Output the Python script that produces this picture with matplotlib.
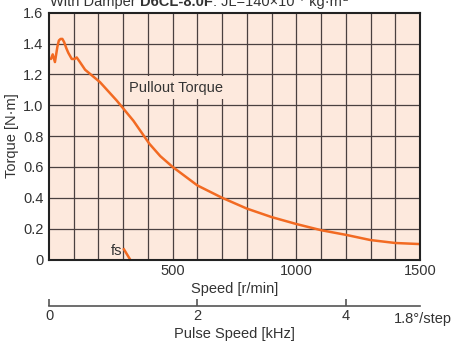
import matplotlib
matplotlib.use("Agg")
import matplotlib.pyplot as plt

# Pullout torque curve, speed in r/min vs torque in N·m
speed = [8, 15, 24, 34, 40, 47, 54, 61, 70, 78, 92, 103, 112, 125, 146, 206, 274,
         341, 406, 450, 500, 600, 700, 800, 900, 1000, 1100, 1200, 1300, 1400, 1500]
torque = [1.30, 1.33, 1.28, 1.38, 1.42, 1.43, 1.43, 1.41, 1.37, 1.34, 1.30, 1.30, 1.31,
          1.28, 1.23, 1.15, 1.03, 0.90, 0.75, 0.67, 0.60, 0.48, 0.40, 0.33, 0.275,
          0.23, 0.19, 0.16, 0.126, 0.107, 0.10]

# short start-stop (fs) segment
fs_speed = [303, 328]
fs_torque = [0.066, 0.0]

x_ticks = [500, 1000, 1500]
y_ticks = [0, 0.2, 0.4, 0.6, 0.8, 1.0, 1.2, 1.4, 1.6]
y_labels = ["0", "0.2", "0.4", "0.6", "0.8", "1.0", "1.2", "1.4", "1.6"]
khz_ticks = [0, 2, 4]

FONT = ["Liberation Sans", "DejaVu Sans"]
TXT = "#333333"
ORANGE = "#f26a22"
FS = 10.5
plt.rcParams["font.family"] = FONT

W, H = 453, 346
fig = plt.figure(figsize=(W / 100, H / 100), dpi=100, facecolor="white")
left, right, top, bottom = 49, 420, 12.7, 259.5
ax = fig.add_axes([left / W, 1 - bottom / H, (right - left) / W, (bottom - top) / H])
ax.set_facecolor("#fde9dd")

ax.set_xlim(0, 1500)
ax.set_ylim(0, 1.6)

# grid every 100 r/min and every 0.2 N·m
for v in range(100, 1500, 100):
    ax.axvline(v, color="#4a4040", linewidth=0.9, zorder=1)
for v in y_ticks[1:-1]:
    ax.axhline(v, color="#4a4040", linewidth=0.9, zorder=1)

ax.plot(speed, torque, color=ORANGE, linewidth=1.8, zorder=3, solid_capstyle="round")
ax.plot(fs_speed, fs_torque, color=ORANGE, linewidth=1.8, zorder=3, clip_on=False)

ax.text(296, 0.055, "fs", ha="right", va="center", fontsize=FS, color=TXT, zorder=4)
ax.text(515, 1.115, "Pullout Torque", ha="center", va="center", fontsize=FS, color=TXT,
        zorder=4, bbox=dict(boxstyle="square,pad=0.3", facecolor="#fde9dd", edgecolor="none"))

for s in ax.spines.values():
    s.set_color("#222222")
    s.set_linewidth(1.5)
    s.set_zorder(5)

ax.set_xticks(x_ticks)
ax.set_xticklabels([str(t) for t in x_ticks])
ax.set_yticks(y_ticks)
ax.set_yticklabels(y_labels)
ax.tick_params(length=0, labelsize=FS, labelcolor=TXT)
ax.tick_params(axis="x", pad=3)
ax.tick_params(axis="y", pad=4)
ax.set_xlabel("Speed [r/min]", fontsize=FS, color=TXT, labelpad=3)
ax.set_ylabel("Torque [N·m]", fontsize=FS, color=TXT, labelpad=3)

# pulse-speed scale: 1.8°/step -> 200 pulses per revolution
sec = ax.secondary_xaxis((bottom - 306) / (bottom - top),
                         functions=(lambda r: r / 300.0, lambda k: k * 300.0))
sec.set_xticks(khz_ticks)
sec.set_xticklabels([str(t) for t in khz_ticks])
sec.spines["bottom"].set_color("#555555")
sec.spines["bottom"].set_linewidth(1.2)
sec.tick_params(direction="in", length=5, width=1.2, color="#555555",
                labelsize=FS, labelcolor=TXT, pad=2)
sec.set_xlabel("Pulse Speed [kHz]", fontsize=FS, color=TXT, labelpad=3)
fig.text(452 / W, 1 - 319 / H, "1.8°/step", ha="right", va="center",
         fontsize=FS, color=TXT)

# header line, partly above the figure edge; pieces are chained left to right
renderer = fig.canvas.get_renderer()
yb = 1 - 5.7 / H
x = 50 / W
for piece, size, dy, weight in [("With Damper ", FS, 0, "normal"),
                                ("D6CL-8.0F", FS, 0, "bold"),
                                (": JL=140×10", FS, 0, "normal"),
                                ("−7", 7, 5, "normal"),
                                (" kg·m", FS, 0, "normal"),
                                ("2", 7, 5, "normal")]:
    t = fig.text(x, yb + dy / H, piece, fontsize=size, color=TXT, va="baseline",
                 fontweight=weight)
    x += t.get_window_extent(renderer).width / W

fig.savefig("out.png", dpi=100, facecolor=fig.get_facecolor())
